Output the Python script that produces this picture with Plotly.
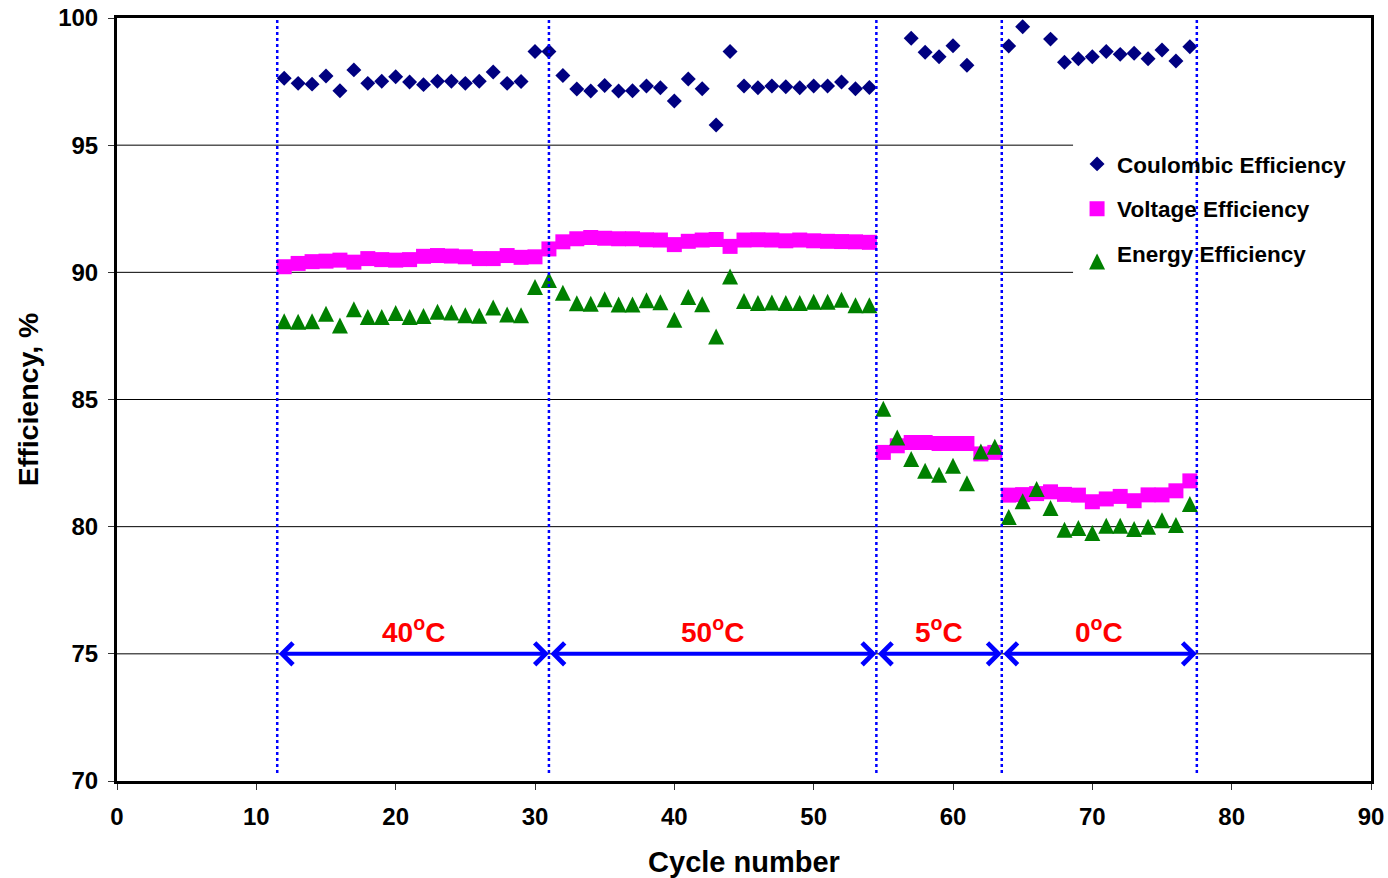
import plotly.graph_objects as go

cycles = list(range(12, 78))

coulombic = [97.63, 97.43, 97.40, 97.72, 97.14, 97.96, 97.43, 97.51, 97.69, 97.48,
             97.38, 97.51, 97.51, 97.43, 97.51, 97.88, 97.43, 97.50, 98.68, 98.68,
             97.74, 97.21, 97.13, 97.35, 97.13, 97.14, 97.33, 97.26, 96.74, 97.60,
             97.22, 95.79, 98.68, 97.33, 97.26, 97.33, 97.30, 97.26, 97.33, 97.33,
             97.48, 97.22, 97.27,
             None, None, 99.20, 98.65, 98.48, 98.91, 98.14, None, None,
             98.90, 99.66, None, 99.17, 98.26, 98.40, 98.48, 98.68, 98.57, 98.61,
             98.40, 98.74, 98.31, 98.87]

voltage = [90.22, 90.35, 90.42, 90.44, 90.48, 90.40, 90.54, 90.50, 90.48, 90.50,
           90.63, 90.66, 90.64, 90.61, 90.54, 90.54, 90.66, 90.59, 90.61, 90.92,
           91.20, 91.32, 91.37, 91.34, 91.32, 91.32, 91.28, 91.27, 91.09, 91.22,
           91.27, 91.29, 91.02, 91.27, 91.28, 91.27, 91.24, 91.27, 91.24, 91.22,
           91.21, 91.20, 91.18,
           82.92, 83.18, 83.31, 83.31, 83.27, 83.27, 83.27, 82.86, 82.92,
           81.24, 81.26, 81.30, 81.37, 81.27, 81.24, 80.98, 81.09, 81.19, 81.02,
           81.25, 81.25, 81.41, 81.80]

energy = [88.08, 88.06, 88.08, 88.37, 87.91, 88.55, 88.24, 88.24, 88.40, 88.24,
          88.28, 88.45, 88.42, 88.31, 88.29, 88.62, 88.34, 88.31, 89.42, 89.70,
          89.20, 88.78, 88.76, 88.94, 88.74, 88.74, 88.90, 88.82, 88.14, 89.03,
          88.75, 87.48, 89.84, 88.87, 88.79, 88.81, 88.79, 88.79, 88.84, 88.84,
          88.92, 88.71, 88.71,
          84.64, 83.51, 82.66, 82.20, 82.04, 82.40, 81.71, 82.96, 83.14,
          80.38, 81.00, 81.48, 80.73, 79.88, 79.95, 79.75, 80.04, 80.04, 79.91,
          80.00, 80.25, 80.07, 80.89]

# temperature regime boundaries (cycle number) and labels
boundaries = [11.5, 31, 54.5, 63.5, 77.5]
temps = ["40", "50", "5", "0"]
arrow_level = 75

x_ticks = [0, 10, 20, 30, 40, 50, 60, 70, 80, 90]
y_ticks = [70, 75, 80, 85, 90, 95, 100]
grid_full = [75, 80, 85]        # gridlines across the whole plot
grid_short = [90, 95]           # gridlines interrupted by the legend box
LEGEND_LEFT = 0.7624            # fraction of plot width where legend box starts

FONT = "Liberation Sans"
Y_RANGE = [70, 100]
PLOT_H = 763
TRI_SIZE = 16
tri_shift = (TRI_SIZE / 2) * (Y_RANGE[1] - Y_RANGE[0]) / PLOT_H

fig = go.Figure()
fig.add_trace(go.Scatter(x=cycles, y=coulombic, mode="markers", name="Coulombic Efficiency",
                         legendgroup="a",
                         marker=dict(symbol="diamond", size=11.5, color="#000080", line=dict(width=0))))
fig.add_trace(go.Scatter(x=cycles, y=voltage, mode="markers", name="Voltage Efficiency",
                         legendgroup="b",
                         marker=dict(symbol="square", size=15, color="#FF00FF", line=dict(width=0))))
fig.add_trace(go.Scatter(x=cycles, y=energy, mode="markers", name="Energy Efficiency",
                         legendgroup="c", yaxis="y2",
                         marker=dict(symbol="arrow-up", size=TRI_SIZE, color="#008000", line=dict(width=0))))

shapes = []
for g in grid_full:
    shapes.append(dict(type="line", xref="paper", yref="y", x0=0, x1=1, y0=g, y1=g,
                       line=dict(color="black", width=1), layer="below"))
for g in grid_short:
    shapes.append(dict(type="line", xref="paper", yref="y", x0=0, x1=LEGEND_LEFT, y0=g, y1=g,
                       line=dict(color="black", width=1), layer="below"))
for b in boundaries:
    shapes.append(dict(type="line", xref="x", yref="y", x0=b, x1=b, y0=70.31, y1=100,
                       line=dict(color="#0000FF", width=2.5, dash="dot"), layer="above"))

annotations = []
for i, t in enumerate(temps):
    a, b = boundaries[i], boundaries[i + 1]
    annotations.append(dict(x=b, y=arrow_level, ax=a, ay=arrow_level, xref="x", yref="y",
                            axref="x", ayref="y", text="", showarrow=True,
                            arrowside="end+start", arrowhead=4, arrowsize=1.05,
                            arrowwidth=4, arrowcolor="#0000FF"))
    annotations.append(dict(x=(a + b) / 2, y=arrow_level, xref="x", yref="y",
                            text="<b>" + t + "<sup>o</sup>C</b>", showarrow=False,
                            yanchor="bottom", yshift=4,
                            font=dict(family=FONT, size=28, color="#FF0000")))

fig.update_layout(
    width=1388, height=878, autosize=False,
    margin=dict(l=117, r=17, t=18, b=97, autoexpand=False),
    paper_bgcolor="white", plot_bgcolor="white",
    font=dict(family=FONT, color="black"),
    showlegend=True,
    legend=dict(x=0.7656, y=0.8365, xanchor="left", yanchor="top",
                bgcolor="rgba(0,0,0,0)", borderwidth=0,
                traceorder="grouped", tracegroupgap=12.5,
                font=dict(family=FONT, size=22.5, color="black", weight="bold")),
    xaxis=dict(range=[0, 90], tickvals=x_ticks, ticks="outside", ticklen=6, tickcolor="#333",
               showgrid=False, zeroline=False, showline=True, linewidth=3, linecolor="black",
               mirror=True, ticklabelstandoff=6, automargin=False,
               tickfont=dict(family=FONT, size=24, color="black", weight="bold"),
               title=dict(text="Cycle number", standoff=24,
                          font=dict(family=FONT, size=29, color="black", weight="bold"))),
    yaxis=dict(range=Y_RANGE, tickvals=y_ticks, ticks="outside", ticklen=6, tickcolor="#333",
               showgrid=False, zeroline=False, automargin=False,
               showline=True, linewidth=3, linecolor="black", mirror=True,
               tickfont=dict(family=FONT, size=24, color="black", weight="bold"),
               ticklabelstandoff=5,
               title=dict(text="Efficiency, %", standoff=12,
                          font=dict(family=FONT, size=28.5, color="black", weight="bold"))),
    yaxis2=dict(range=[Y_RANGE[0] - tri_shift, Y_RANGE[1] - tri_shift], overlaying="y",
                automargin=False,
                showgrid=False, showticklabels=False, ticks="", zeroline=False, showline=False),
    shapes=shapes,
    annotations=annotations,
)

fig.write_html("out.html", config={"displayModeBar": False},
               post_script="document.body.style.margin='0';document.body.style.overflow='hidden';")
